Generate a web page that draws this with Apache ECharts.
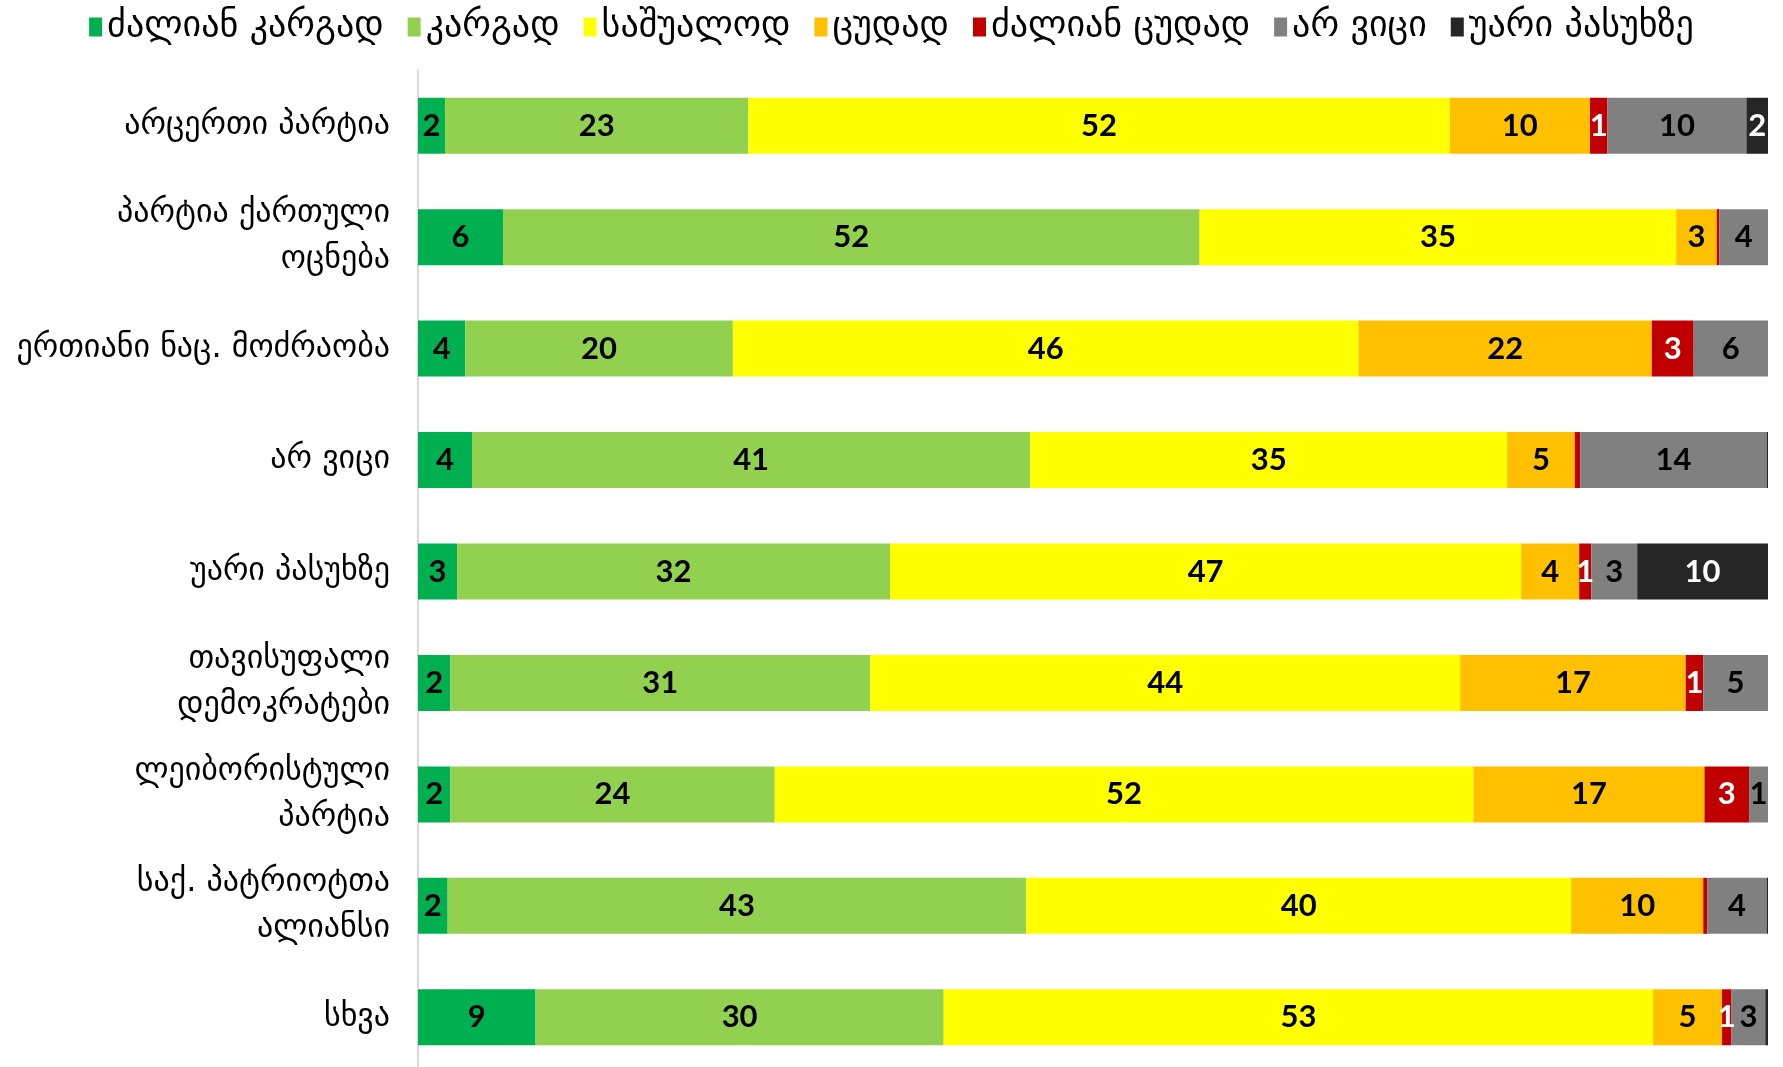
<!DOCTYPE html>
<html>
<head>
<meta charset="utf-8">
<script src="https://cdn.jsdelivr.net/npm/echarts@6/dist/echarts.min.js"></script>
<style>
html, body { margin: 0; padding: 0; background: #fff; }
#divChart { width: 1783px; height: 1067px; }
</style>
</head>
<body>
<div id="divChart"></div>
<script>
// რიგები ზემოდან ქვემოთ
var arrCats = [
    'არცერთი პარტია',
    'პარტია ქართული\nოცნება',
    'ერთიანი ნაც. მოძრაობა',
    'არ ვიცი',
    'უარი პასუხზე',
    'თავისუფალი\nდემოკრატები',
    'ლეიბორისტული\nპარტია',
    'საქ. პატრიოტთა\nალიანსი',
    'სხვა'
];

var arrNames = ['ძალიან კარგად', 'კარგად', 'საშუალოდ', 'ცუდად', 'ძალიან ცუდად', 'არ ვიცი', 'უარი პასუხზე'];
var arrColors = ['#00B050', '#92D050', '#FFFF00', '#FFC000', '#C00000', '#808080', '#262626'];
var arrLblColors = ['#000', '#000', '#000', '#000', '#fff', '#000', '#fff'];

// პროცენტები (ზემოდან ქვემოთ)
var arrVeryGood = [2.0, 6.3, 3.5, 4.0, 2.9, 2.4, 2.4, 2.2, 8.7];
var arrGood     = [22.5, 51.6, 19.8, 41.3, 32.1, 31.1, 24.0, 42.9, 30.2];
var arrAverage  = [52.0, 35.3, 46.3, 35.3, 46.8, 43.7, 51.7, 40.4, 52.5];
var arrBad      = [10.4, 3.0, 21.7, 5.0, 4.3, 16.7, 17.1, 9.8, 5.1];
var arrVeryBad  = [1.3, 0.2, 3.1, 0.4, 0.9, 1.3, 3.3, 0.3, 0.7];
var arrDontKnow = [10.3, 3.6, 5.5, 13.8, 3.4, 4.8, 1.4, 4.4, 2.5];
var arrRefuse   = [1.6, 0, 0, 0.1, 9.7, 0, 0, 0.1, 0.2];

var arrSeriesData = [arrVeryGood, arrGood, arrAverage, arrBad, arrVeryBad, arrDontKnow, arrRefuse];

var chartBar = echarts.init(document.getElementById('divChart'));

// თითოეული რიგის ჯამი, რომ ზოლი 100%-ზე დასრულდეს
var arrRowSum = arrCats.map(function(c, intI) {
    var dblSum = 0;
    for (var intJ = 0; intJ < arrSeriesData.length; intJ++) {
        dblSum += arrSeriesData[intJ][intI];
    };
    return dblSum;
});

var arrSeries = [];
for (var intJ = 0; intJ < arrSeriesData.length; intJ++) {
    (function(intJ) {
        arrSeries.push({
            name: arrNames[intJ],
            type: 'bar',
            stack: 'total',
            barWidth: 56,
            itemStyle: { color: arrColors[intJ] },
            label: {
                show: true,
                position: 'inside',
                color: arrLblColors[intJ],
                fontFamily: 'Lato',
                fontWeight: 'bold',
                fontSize: 31,
                formatter: function(p) {
                    var dblRaw = arrSeriesData[intJ][p.dataIndex];
                    return dblRaw < 0.6 ? '' : String(Math.round(dblRaw));
                }
            },
            data: arrSeriesData[intJ].map(function(v, intI) {
                return v / arrRowSum[intI] * 100;
            })
        });
    })(intJ);
};

var optBar = {
    animation: false,
    legend: {
        top: 4,
        left: 'center',
        itemWidth: 13,
        itemHeight: 19,
        itemGap: 24,
        icon: 'rect',
        textStyle: {
            fontFamily: 'DejaVu Sans',
            fontSize: 36,
            color: '#000'
        },
        data: arrNames
    },
    grid: {
        left: 418,
        right: 15,
        top: 70,
        height: 1003,
        outerBoundsMode: 'none'
    },
    xAxis: {
        type: 'value',
        min: 0,
        max: 100,
        show: false
    },
    yAxis: {
        type: 'category',
        inverse: true,
        data: arrCats,
        axisLine: { show: true, lineStyle: { color: '#d9d9d9', width: 2 } },
        axisTick: { show: false },
        axisLabel: {
            margin: 28,
            fontFamily: 'DejaVu Sans',
            fontSize: 32,
            lineHeight: 46,
            color: '#000',
            align: 'right'
        }
    },
    series: arrSeries
};
chartBar.setOption(optBar);
</script>
</body>
</html>
